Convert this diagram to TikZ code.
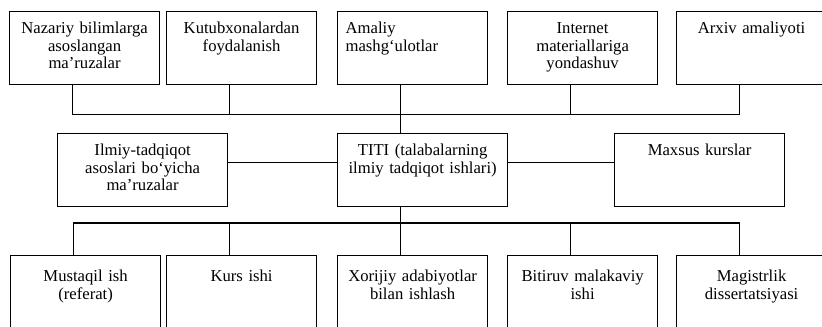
\documentclass[tikz,border=0pt]{standalone}
\usepackage{fontspec}
\setmainfont{Liberation Serif}
\begin{document}
\begin{tikzpicture}[x=0.75pt,y=-0.75pt,line width=0.9pt,
  blk/.style={draw,anchor=north west,inner sep=0pt,text width=#1,align=center,
    text height=16.5pt,text depth=38.25pt,font=\fontsize{12.5}{13.1}\selectfont},
  blk/.default=112.5pt,
  low/.style={text height=19.5pt,text depth=35.25pt}]
\useasboundingbox (0,0) rectangle (822,326);
\node[blk] (nazariy) at (9,11) {Nazariy bilimlarga\\asoslangan\\ma'ruzalar};
\node[blk] (kutub) at (166,11) {Kutubxonalardan\\foydalanish};
\node[blk=100.5pt,inner xsep=6pt,align=left] (amaliy) at (337,11) {Amaliy\\mashg`ulotlar};
\node[blk] (internet) at (507,11) {Internet\\materiallariga\\yondashuv};
\node[blk] (arxiv) at (676,11) {Arxiv amaliyoti};
\node[blk=127.5pt] (ilmiy) at (57,133) {Ilmiy-tadqiqot\\asoslari bo`yicha\\ma'ruzalar};
\node[blk=127.5pt] (titi) at (337,133) {TITI (talabalarning\\ilmiy tadqiqot ishlari)};
\node[blk=127.5pt] (maxsus) at (614,133) {Maxsus kurslar};
\node[blk,low] (mustaqil) at (10,255) {Mustaqil ish\\(referat)};
\node[blk,low] (kurs) at (166,255) {Kurs ishi};
\node[blk,low] (xorijiy) at (337,255) {Xorijiy adabiyotlar\\bilan ishlash};
\node[blk,low] (bitiruv) at (507,255) {Bitiruv malakaviy\\ishi};
\node[blk,low] (magistr) at (676,255) {Magistrlik\\dissertatsiyasi};
\draw ([xshift=-9pt]nazariy.south) -- ++(0,29) -| ([xshift=-9pt]arxiv.south);
\draw ([xshift=-9pt]kutub.south) -- ++(0,29);
\draw ([xshift=-9pt]internet.south) -- ++(0,29);
\draw ([xshift=-9pt]amaliy.south) -- ([xshift=-16.5pt]titi.north);
\draw ([yshift=5.5pt]titi.west) -- ([yshift=5.5pt]ilmiy.east);
\draw ([yshift=5.5pt]titi.east) -- ([yshift=5.5pt]maxsus.west);
\draw ([xshift=-16.5pt]titi.south) -- ([xshift=-9pt]xorijiy.north);
\draw ([xshift=-9pt]mustaqil.north) -- ++(0,-32) -| ([xshift=-9pt]magistr.north);
\draw ([xshift=-9pt]kurs.north) -- ++(0,-32);
\draw ([xshift=-9pt]bitiruv.north) -- ++(0,-32);
\end{tikzpicture}
\end{document}
